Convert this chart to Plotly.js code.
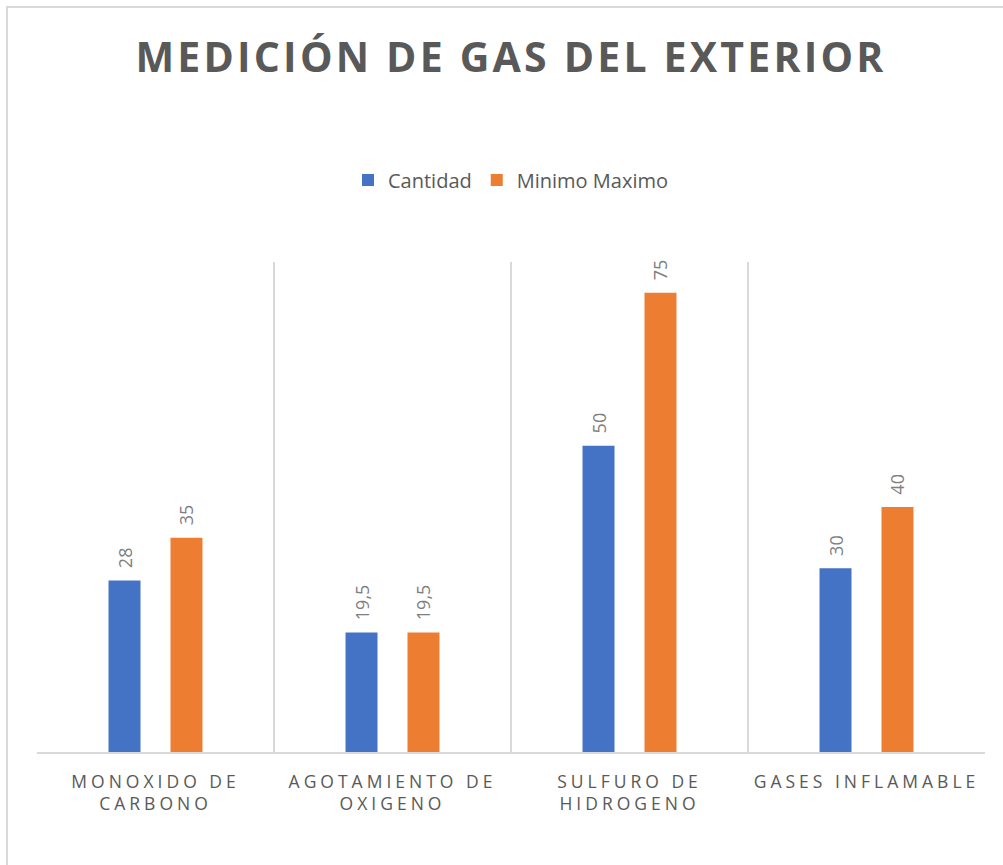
<!DOCTYPE html>
<html>
<head>
<meta charset="utf-8">
<script src="https://cdn.plot.ly/plotly-3.0.1.min.js"></script>
<style>
  html, body { margin: 0; padding: 0; background: #fff; }
  #chart { width: 1003px; height: 865px; }
  #frame { position: absolute; left: 6px; top: 6px; width: 1003px; height: 865px;
           border-top: 2px solid #d9d9d9; border-left: 2px solid #d9d9d9; pointer-events: none; }
  .gtitle { letter-spacing: 3.2px; }
  .xtick text { letter-spacing: 4px; }
</style>
</head>
<body>
<div id="chart"></div>
<div id="frame"></div>
<script>
const categories = ["MONOXIDO DE<br>CARBONO", "AGOTAMIENTO DE<br>OXIGENO", "SULFURO DE<br>HIDROGENO", "GASES INFLAMABLE"];
const cantidad = [28, 19.5, 50, 30];
const minimoMaximo = [35, 19.5, 75, 40];
const seriesNames = ["Cantidad", "Minimo Maximo"];
const fmt = v => "\u00a0\u00a0" + String(v).replace('.', ',');

const labelFont = { family: "Open Sans, sans-serif", size: 18, color: "#7f7f7f" };

const traces = [
  { type: "bar", name: seriesNames[0], x: categories, y: cantidad,
    marker: { color: "#4472C4" }, text: cantidad.map(fmt), textposition: "outside",
    textangle: -90, outsidetextfont: labelFont, constraintext: "none", cliponaxis: false, hoverinfo: "none" },
  { type: "bar", name: seriesNames[1], x: categories, y: minimoMaximo,
    marker: { color: "#ED7D31" }, text: minimoMaximo.map(fmt), textposition: "outside",
    textangle: -90, outsidetextfont: labelFont, constraintext: "none", cliponaxis: false, hoverinfo: "none" }
];

const layout = {
  width: 1003, height: 865,
  margin: { l: 37, r: 18, t: 262, b: 113 },
  paper_bgcolor: "#fff", plot_bgcolor: "#fff",
  font: { family: "Open Sans, sans-serif", color: "#595959" },
  title: { text: "<b>MEDICIÓN DE GAS DEL EXTERIOR</b>", xref: "container", x: 511 / 1003, xanchor: "center",
           y: 1 - 58 / 865, yanchor: "middle", yref: "container",
           font: { family: "Open Sans, sans-serif", size: 41, color: "#595959" } },
  showlegend: true,
  legend: { orientation: "h", x: 0.5, xanchor: "center", y: (752 - 180) / 490, yanchor: "middle",
            font: { size: 20, color: "#595959" }, itemwidth: 30, traceorder: "normal" },
  barmode: "group", bargap: 0.477, bargroupgap: 0.484,
  uniformtext: { mode: false },
  xaxis: { type: "category", tickson: "boundaries", showgrid: true, gridcolor: "#d9d9d9", gridwidth: 1.3,
           showline: true, linecolor: "#d9d9d9", linewidth: 1.5, ticks: "", ticklen: 0,
           ticklabelstandoff: 13,
           tickfont: { size: 17.5, color: "#595959" }, fixedrange: true },
  yaxis: { range: [0, 80], showgrid: false, showticklabels: false, zeroline: false,
           showline: false, ticks: "", fixedrange: true }
};

Plotly.newPlot("chart", traces, layout, { displayModeBar: false, staticPlot: true });
</script>
</body>
</html>
